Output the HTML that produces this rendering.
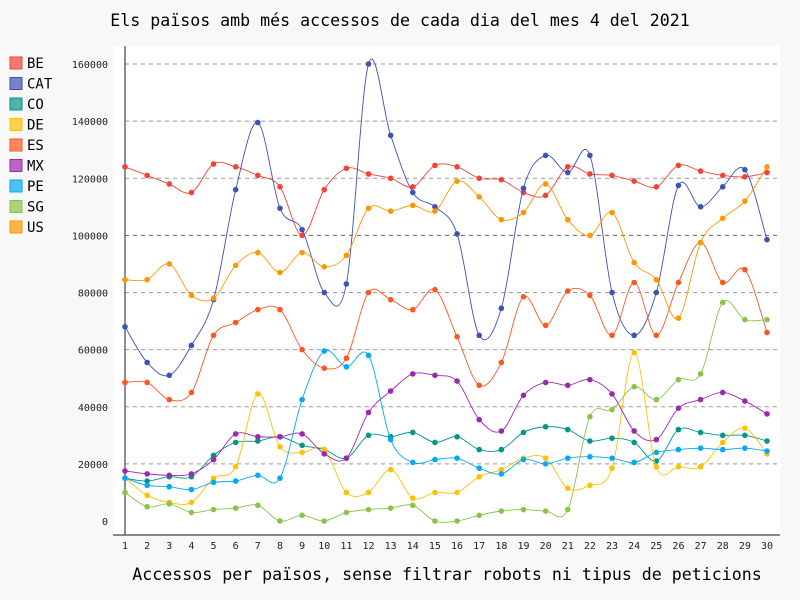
<!DOCTYPE html><html><head><meta charset="utf-8"><style>body{margin:0;background:#f8f8f8}svg{display:block;font-family:"DejaVu Sans Mono","Liberation Mono",monospace}</style></head><body>
<svg id="s" width="800" height="600" xmlns="http://www.w3.org/2000/svg">
<rect width="800" height="600" fill="#f8f8f8"/>
<rect x="113" y="46" width="667" height="489" fill="#fff"/>
<text x="400" y="26" text-anchor="middle" font-size="16.6" fill="#000">Els països amb més accessos de cada dia del mes 4 del 2021</text>
<text x="447" y="580" text-anchor="middle" font-size="16.6" fill="#000">Accessos per països, sense filtrar robots ni tipus de peticions</text>
<g id="g"></g>
</svg>
<script>
var S='http://www.w3.org/2000/svg',g=document.getElementById('g');
function el(t,a,txt){var e=document.createElementNS(S,t);for(var k in a)e.setAttribute(k,a[k]);if(txt!=null)e.textContent=txt;g.appendChild(e);return e;}
function X(d){return 125+(d-1)*(642/29);}function Y(v){return 521-v*457/160000;}
for(var v=0;v<=160000;v+=20000){var y=Y(v);if(v>0)el('line',{x1:125,x2:780,y1:y,y2:y,stroke:v==100000?'#666':'#999','stroke-dasharray':'4,4','stroke-width':1});el('text',{x:108,y:y+4,'text-anchor':'end','font-size':10,fill:'#222'},v);}
el('line',{x1:125,x2:125,y1:46,y2:535,stroke:'#444','stroke-width':1.2});
el('line',{x1:113,x2:780,y1:535,y2:535,stroke:'#444','stroke-width':1.2});
for(var d=1;d<=30;d++)el('text',{x:X(d),y:549,'text-anchor':'middle','font-size':10,fill:'#222'},d);
var D={
BE:['#f44336',[124000,121000,118000,115000,125000,124000,121000,117000,100000,116000,123500,121500,120000,117000,124500,124000,120000,119500,115000,114000,124000,121500,121000,119000,117000,124500,122500,121000,120500,122000]],
CAT:['#3f51b5',[68000,55500,51000,61500,77500,116000,139500,109500,102000,80000,83000,160000,135000,115000,110000,100500,65000,74500,116500,128000,122000,128000,80000,65000,80000,117500,110000,117000,123000,98500]],
CO:['#009688',[15000,14000,15500,15500,23000,27500,28000,29500,26500,25000,22000,30000,29500,31000,27500,29500,25000,25000,31000,33000,32000,28000,29000,27500,21000,32000,31000,30000,30000,28000]],
DE:['#ffc107',[15000,9000,6500,6500,15000,19000,44500,26000,24000,25000,10000,10000,18000,8000,10000,10000,15500,18000,22000,22000,11500,12500,18500,59000,19000,19000,19000,27500,32500,23500]],
ES:['#ff5722',[48500,48500,42500,45000,65000,69500,74000,74000,60000,53500,57000,80000,77500,74000,81000,64500,47500,55500,78500,68500,80500,79000,65000,83500,65000,83500,97500,83500,88000,66000]],
MX:['#9c27b0',[17500,16500,16000,16500,21500,30500,29500,29500,30500,23500,22000,38000,45500,51500,51000,49000,35500,31500,44000,48500,47500,49500,44500,31500,28500,39500,42500,45000,42000,37500]],
PE:['#03a9f4',[15000,12500,12000,11000,13500,14000,16000,15000,42500,59500,54000,58000,28500,20500,21500,22000,18500,16500,21500,20000,22000,22500,22000,20500,24000,25000,25500,25000,25500,24500]],
SG:['#8bc34a',[10000,5000,6000,3000,4000,4500,5500,0,2000,0,3000,4000,4500,5500,0,0,2000,3500,4000,3500,4000,36500,39000,47000,42500,49500,51500,76500,70500,70500]],
US:['#ff9800',[84500,84500,90000,79000,78000,89500,94000,87000,94000,89000,93000,109500,108500,110500,108500,119000,113500,105500,108000,118000,105500,100000,108000,90500,84500,71000,97500,106000,112000,124000]]};
var i=0;for(var k in D){var c=D[k][0],a=D[k][1],p=a.map(function(v,j){return[X(j+1),Y(v)]});
var s='M'+p[0][0]+','+p[0][1];for(var j=0;j<p.length-1;j++){var p0=p[j-1]||p[j],p1=p[j],p2=p[j+1],p3=p[j+2]||p2;
s+='C'+(p1[0]+(p2[0]-p0[0])/6)+','+(p1[1]+(p2[1]-p0[1])/6)+' '+(p2[0]-(p3[0]-p1[0])/6)+','+(p2[1]-(p3[1]-p1[1])/6)+' '+p2[0]+','+p2[1];}
el('path',{d:s,fill:'none',stroke:c,'stroke-width':0.9});
p.forEach(function(q){el('circle',{cx:q[0],cy:q[1],r:2.8,fill:c});});
var ly=63+i*20.5;el('rect',{x:10,y:ly-6,width:12,height:12,fill:c,'fill-opacity':0.7,stroke:c,'stroke-width':1});
el('text',{x:27,y:ly+5,'font-size':14,fill:'#000'},k);i++;}
</script></body></html>
